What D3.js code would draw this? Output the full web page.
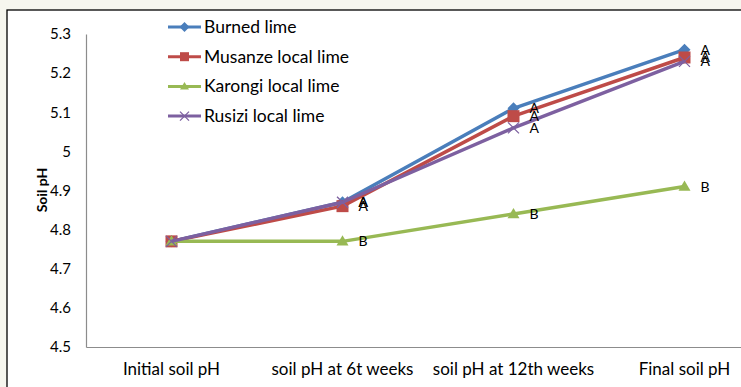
<!DOCTYPE html>
<html>
<head>
<meta charset="utf-8">
<script src="https://cdn.jsdelivr.net/npm/d3@7"></script>
<style>
  html, body { margin: 0; padding: 0; background: #f6f6ee; }
  svg { display: block; }
  text { font-family: Lato, "Open Sans", sans-serif; fill: #000; }
</style>
</head>
<body>
<svg id="chart" width="741" height="387"></svg>
<script>
// Sampling times along the x axis
const categories = ["Initial soil pH", "soil pH at 6t weeks", "soil pH at 12th weeks", "Final soil pH"];
// Lime treatments
const seriesNames = ["Burned lime", "Musanze local lime", "Karongi local lime", "Rusizi local lime"];
const burned  = [4.77, 4.87, 5.11, 5.26];
const musanze = [4.77, 4.86, 5.09, 5.24];
const karongi = [4.77, 4.77, 4.84, 4.91];
const rusizi  = [4.77, 4.87, 5.06, 5.23];
// Significance letters per treatment and time
const burnedLetters  = ["", "A", "A", "A"];
const musanzeLetters = ["", "A", "A", "A"];
const karongiLetters = ["", "B", "B", "B"];
const rusiziLetters  = ["", "A", "A", "A"];
const yTicks = [4.5, 4.6, 4.7, 4.8, 4.9, 5, 5.1, 5.2, 5.3];

const series = [
  { name: seriesNames[0], values: burned,  letters: burnedLetters,  color: "#4a7ebb", marker: "diamond" },
  { name: seriesNames[1], values: musanze, letters: musanzeLetters, color: "#be4b48", marker: "square" },
  { name: seriesNames[2], values: karongi, letters: karongiLetters, color: "#98b954", marker: "triangle" },
  { name: seriesNames[3], values: rusizi,  letters: rusiziLetters,  color: "#7d60a0", marker: "cross" }
];

const svg = d3.select("#chart");

// Chart frame
svg.append("rect").attr("x", 7).attr("y", 10).attr("width", 800).attr("height", 400)
  .attr("fill", "#fff").attr("stroke", "#000").attr("stroke-width", 1.3);

const plot = { left: 86, top: 34, bottom: 347, right: 770 };

const x = d3.scaleBand().domain(categories).range([plot.left, plot.right]);
const y = d3.scaleLinear().domain([4.5, 5.3]).range([plot.bottom, plot.top]);
const cx = c => x(c) + x.bandwidth() / 2;

// Axes
const yAxis = d3.axisLeft(y).tickValues(yTicks).tickSize(0).tickPadding(15)
  .tickFormat(d => d3.format("")(+d.toFixed(1)));
const gy = svg.append("g").attr("transform", `translate(${plot.left},0)`).call(yAxis);
gy.select(".domain").attr("stroke", "#8c8c8c").attr("stroke-width", 1.2);
gy.selectAll("text").attr("font-size", 15).attr("font-family", "Lato, sans-serif");

const xAxis = d3.axisBottom(x).tickSize(0).tickPadding(16);
const gx = svg.append("g").attr("transform", `translate(0,${plot.bottom})`).call(xAxis);
gx.select(".domain").attr("stroke", "#8c8c8c").attr("stroke-width", 1.2);
gx.selectAll("text").attr("font-size", 17).attr("font-family", "Lato, sans-serif");

// Axis title
svg.append("text").attr("transform", "translate(47,190) rotate(-90)")
  .attr("text-anchor", "middle").attr("font-size", 14).attr("font-weight", "bold")
  .text("Soil pH");

// Marker shapes
function drawMarker(g, type, color, px, py, s) {
  if (type === "diamond") {
    g.append("path").attr("d", `M${px},${py - s}L${px + s},${py}L${px},${py + s}L${px - s},${py}Z`).attr("fill", color);
  } else if (type === "square") {
    g.append("rect").attr("x", px - s).attr("y", py - s).attr("width", 2 * s).attr("height", 2 * s).attr("fill", color);
  } else if (type === "triangle") {
    g.append("path").attr("d", `M${px},${py - s}L${px + s},${py + s * 0.7}L${px - s},${py + s * 0.7}Z`).attr("fill", color);
  } else if (type === "cross") {
    g.append("path").attr("d", `M${px - s},${py - s}L${px + s},${py + s}M${px - s},${py + s}L${px + s},${py - s}`)
      .attr("stroke", color).attr("stroke-width", 1.3).attr("fill", "none");
  }
}

const line = d3.line().x((d, i) => cx(categories[i])).y(d => y(d));

series.forEach(s => {
  const g = svg.append("g");
  g.append("path").datum(s.values).attr("d", line)
    .attr("fill", "none").attr("stroke", s.color).attr("stroke-width", 3.5).attr("stroke-linejoin", "round");
  s.values.forEach((v, i) => {
    const size = s.marker === "diamond" ? 6 : s.marker === "cross" ? 5.5 : 6;
    drawMarker(g, s.marker, s.color, cx(categories[i]), y(v), size);
  });
});

// Significance letters
series.forEach(s => {
  s.values.forEach((v, i) => {
    if (!s.letters[i]) return;
    svg.append("text").attr("x", cx(categories[i]) + 16).attr("y", y(v) + 5)
      .attr("font-size", 14).attr("font-family", "Liberation Sans, Arial, sans-serif")
      .text(s.letters[i]);
  });
});

// Legend
const legend = svg.append("g");
series.forEach((s, i) => {
  const ly = 27 + i * 29.7;
  legend.append("line").attr("x1", 168).attr("x2", 201).attr("y1", ly).attr("y2", ly)
    .attr("stroke", s.color).attr("stroke-width", 3);
  drawMarker(legend, s.marker, s.color, 184.5, ly, s.marker === "diamond" ? 5 : 4.5);
  legend.append("text").attr("x", 204).attr("y", ly + 6).attr("font-size", 17.5)
    .attr("font-family", "Lato, sans-serif").text(s.name);
});
</script>
</body>
</html>
